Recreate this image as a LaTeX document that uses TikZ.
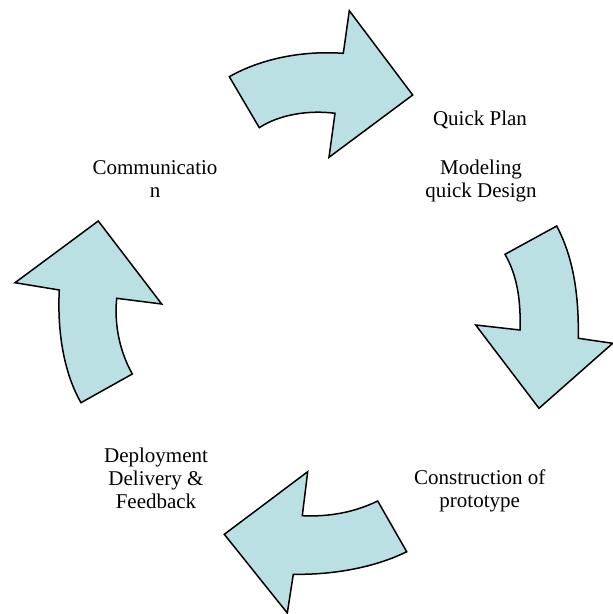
\documentclass[tikz,border=0pt]{standalone}
\usepackage{fontspec}
\setmainfont{Liberation Serif}
\begin{document}
\begin{tikzpicture}[x=1pt,y=-1pt,
  cyclearrow/.style={fill=arrowfill,draw=black,line width=1.5pt,line join=miter},
  label/.style={align=center,inner sep=0pt,anchor=base,font=\fontsize{21}{23}\selectfont}]
\definecolor{arrowfill}{RGB}{187,224,227}
\useasboundingbox (0,0) rectangle (613,614);
% top arrow
\draw[cyclearrow] (229.3,76.7) .. controls (255,62) and (295,50) .. (343.3,53.3)
  -- (349.3,10.7) -- (412.7,95) -- (329,157.3) -- (335,113.3)
  .. controls (310,110) and (280,114) .. (259.3,127.7) -- cycle;
% right arrow
\draw[cyclearrow] (505,254.3) -- (556.7,226)
  .. controls (572,255) and (579,290) .. (578.3,338.3)
  -- (612.7,343.3) -- (539,408.3) -- (475.7,325) -- (520,330)
  .. controls (521,300) and (517,275) .. (505,254.3) -- cycle;
% bottom arrow
\draw[cyclearrow] (302.3,515.7) .. controls (330,517) and (355,512) .. (377.7,501)
  -- (406.7,551.7) .. controls (380,565) and (340,575) .. (293.3,574.3)
  -- (287.3,613) -- (224.3,534.3) -- (307.7,471.7) -- cycle;
% left arrow
\draw[cyclearrow] (98.3,221) -- (161.7,304) -- (116.7,298.3)
  .. controls (114,325) and (120,352) .. (132.3,374)
  -- (81,402.7) .. controls (65,375) and (57,335) .. (59.3,290)
  -- (15,282.7) -- cycle;
% labels (base anchor = baseline of last line)
\node[label] (qp) at (480,125) {Quick Plan};
\node[label] (md) at (481,197.5) {Modeling\\quick Design};
\node[label] (cm) at (155,197) {Communicatio\\n};
\node[label] (cp) at (479.7,507) {Construction of\\prototype};
\node[label] (dp) at (156,508.3) {Deployment\\Delivery \&\\Feedback};
\end{tikzpicture}
\end{document}
